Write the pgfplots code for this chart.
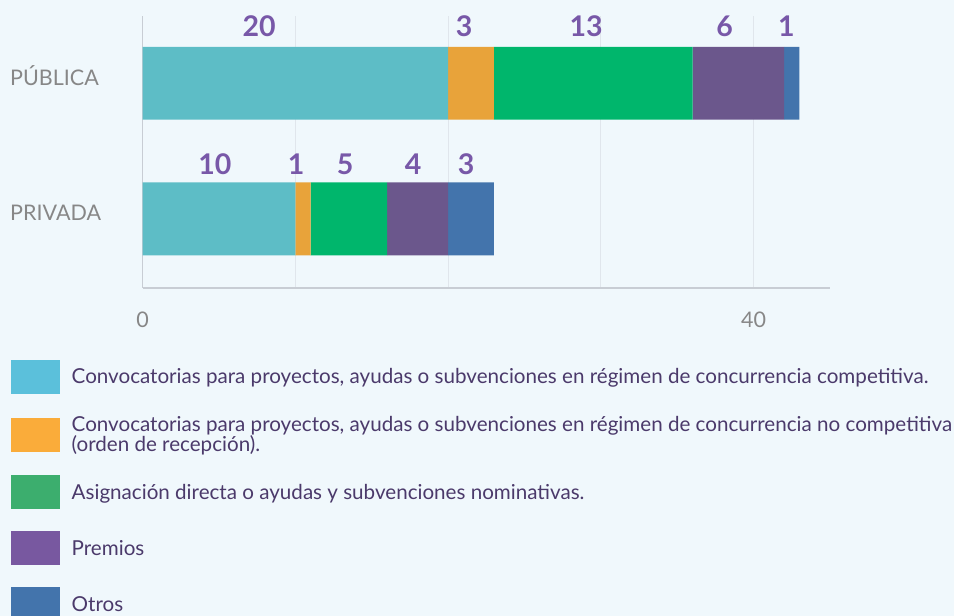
\documentclass[border=0pt]{standalone}
\usepackage{pgfplots}
\pgfplotsset{compat=1.18}
\usepackage{fontspec}
\setmainfont{Lato}
\definecolor{bgc}{RGB}{240,248,252}
\definecolor{cteal}{RGB}{93,189,198}
\definecolor{corange}{RGB}{232,163,58}
\definecolor{cgreen}{RGB}{0,182,108}
\definecolor{cpurple}{RGB}{107,87,140}
\definecolor{cblue}{RGB}{67,116,172}
\definecolor{lteal}{RGB}{91,192,219}
\definecolor{lorange}{RGB}{250,172,58}
\definecolor{lgreen}{RGB}{60,174,110}
\definecolor{lpurple}{RGB}{120,88,160}
\definecolor{lblue}{RGB}{67,116,172}
\definecolor{numc}{RGB}{120,88,168}
\definecolor{legtext}{RGB}{75,58,107}
\definecolor{graytext}{RGB}{135,135,135}
\definecolor{gridc}{RGB}{224,230,236}
\definecolor{axisc}{RGB}{200,205,212}
\begin{document}
\begin{tikzpicture}[x=1pt,y=1pt]
\fill[bgc] (0,0) rectangle (954,616);
\begin{axis}[
  scale only axis, width=687.3pt, height=272pt,
  at={(142.7pt,328pt)}, anchor=south west,
  xbar stacked, bar width=0.538,
  xmin=0, xmax=45, ymin=-0.51, ymax=1.496,
  axis x line*=bottom, axis y line*=left,
  axis line style={draw=axisc, line width=1.2pt, -},
  xtick={0,40}, minor xtick={10,20,30},
  xmajorgrids, xminorgrids,
  major grid style={draw=gridc, line width=1pt},
  minor grid style={draw=gridc, line width=1pt},
  major tick length=0pt, minor tick length=0pt,
  /pgf/number format/assume math mode=true,
  ytick={0,1}, yticklabels={PRIVADA,PÚBLICA},
  yticklabel style={anchor=base west, inner sep=0pt, xshift=-132.7pt, yshift=-2pt, font=\fontsize{21.5}{21.5}\selectfont, text=graytext},
  xticklabel style={font=\fontsize{21.5}{21.5}\selectfont, text=graytext, inner sep=0pt, yshift=-24pt},
  legend cell align=left,
  legend image code/.code={\fill[#1, draw=none] (0pt,-17pt) rectangle (49pt,17pt);},
  legend style={draw=none, fill=none, at={(axis description cs:-0.1916,-0.2647)}, anchor=north west,
    inner sep=0pt, outer sep=0pt, row sep=22pt, column sep=11.7pt,
    nodes={inner sep=0pt, align=left, text=legtext},
    font=\fontsize{20.6}{19.5}\selectfont},
]
\addplot[fill=cteal, draw=none, forget plot] coordinates {(20,1) (10,0)};
\addplot[fill=corange, draw=none, forget plot] coordinates {(3,1) (1,0)};
\addplot[fill=cgreen, draw=none, forget plot] coordinates {(13,1) (5,0)};
\addplot[fill=cpurple, draw=none, forget plot] coordinates {(6,1) (4,0)};
\addplot[fill=cblue, draw=none, forget plot] coordinates {(1,1) (3,0)};
\addlegendimage{fill=lteal}
\addlegendentry{Convocatorias para proyectos, ayudas o subvenciones en régimen de concurrencia competitiva.}
\addlegendimage{fill=lorange}
\addlegendentry{Convocatorias para proyectos, ayudas o subvenciones en régimen de concurrencia no competitiva\\(orden de recepción).}
\addlegendimage{fill=lgreen}
\addlegendentry{Asignación directa o ayudas y subvenciones nominativas.}
\addlegendimage{fill=lpurple}
\addlegendentry{Premios}
\addlegendimage{fill=lblue}
\addlegendentry{Otros}
\end{axis}
\begin{axis}[
  scale only axis, width=687.3pt, height=272pt,
  at={(142.7pt,328pt)}, anchor=south west,
  xmin=0, xmax=45, ymin=-0.51, ymax=1.496,
  hide axis,
]
\addplot[draw=none, mark=none, nodes near coords, point meta=explicit symbolic,
  nodes near coords style={anchor=center, inner sep=0pt, text=numc, font=\fontsize{28.5}{28.5}\selectfont\bfseries}]
  coordinates {(7.63,1.42)[20] (21.05,1.42)[3] (29.04,1.42)[13] (38.1,1.42)[6] (42.14,1.42)[1]
               (4.72,0.40)[10] (10.04,0.40)[1] (13.25,0.40)[5] (17.7,0.40)[4] (21.18,0.40)[3]};
\end{axis}
\pgfresetboundingbox
\path[use as bounding box] (0,0) rectangle (954,616);
\end{tikzpicture}
\end{document}
